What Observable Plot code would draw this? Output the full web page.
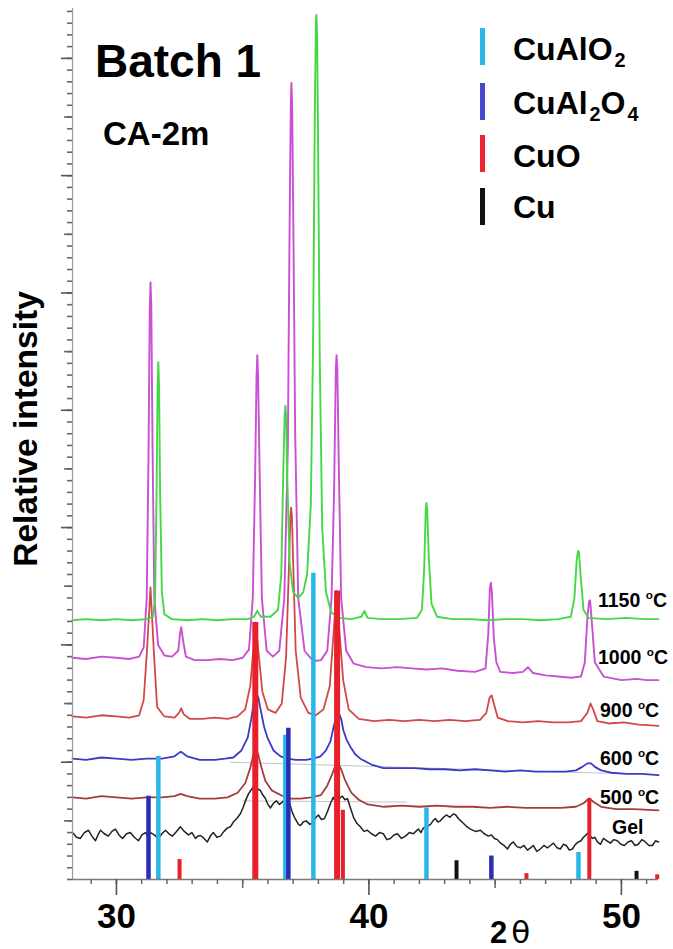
<!DOCTYPE html>
<html><head><meta charset="utf-8">
<script src="https://cdn.jsdelivr.net/npm/d3@7"></script>
<script src="https://cdn.jsdelivr.net/npm/@observablehq/plot@0.6"></script>
<style>html,body{margin:0;padding:0;background:#fff}#chart svg{display:block}</style>
</head><body><div id="chart"></div>
<script>
// ---------- data (2θ in degrees, relative intensity in arbitrary units) ----------
const xTicksMajor = [30, 40, 50];
const xTicksMid = [35, 45];
const xTicksMinor = d3.range(29, 52);

const seriesLabels = ["1150 ^oC", "1000 ^oC", "900 ^oC", "600 ^oC", "500 ^oC", "Gel"];
const phaseNames = ["CuAlO_2", "CuAl_2O_4", "CuO", "Cu"];

// reference stick patterns [2θ, intensity]
const stickCuAlO2 = [[31.66,1.05],[36.69,1.23],[37.80,2.61],[42.28,0.61],[48.30,0.23]];
const stickCuAl2O4 = [[31.27,0.71],[36.81,1.29],[44.85,0.20]];
const stickCuO = [[32.50,0.17],[35.50,2.19],[38.74,2.46],[38.97,0.59],[46.24,0.05],[48.73,0.69],[51.42,0.04]];
const stickCu = [[43.47,0.16],[50.60,0.07]];

// measured patterns [2θ, intensity]
const pat1150 = [[28.26,2.21],[28.8,2.22],[29.4,2.21],[30.0,2.22],[30.6,2.21],[31.2,2.22],[31.45,2.24],[31.53,2.40],[31.59,3.30],[31.63,4.20],[31.66,4.41],[31.69,4.20],[31.73,3.30],[31.80,2.45],[31.9,2.26],[32.2,2.22],[32.8,2.21],[33.4,2.22],[34.0,2.21],[34.6,2.22],[35.2,2.22],[35.45,2.24],[35.58,2.29],[35.72,2.24],[36.1,2.24],[36.4,2.30],[36.53,2.60],[36.61,3.50],[36.66,3.95],[36.69,4.04],[36.72,3.95],[36.77,3.40],[36.86,2.70],[37.0,2.45],[37.2,2.40],[37.4,2.45],[37.55,2.60],[37.70,3.20],[37.79,4.60],[37.86,6.60],[37.90,7.30],[37.92,7.37],[37.95,7.20],[37.99,6.20],[38.05,4.50],[38.15,3.00],[38.30,2.45],[38.5,2.28],[38.8,2.23],[39.3,2.22],[39.7,2.24],[39.82,2.29],[39.95,2.23],[40.5,2.22],[41.2,2.22],[41.9,2.23],[42.1,2.30],[42.19,2.65],[42.25,3.15],[42.28,3.21],[42.31,3.15],[42.37,2.75],[42.48,2.35],[42.7,2.24],[43.3,2.22],[44.0,2.22],[44.7,2.21],[45.4,2.22],[46.1,2.22],[46.8,2.21],[47.5,2.22],[48.0,2.24],[48.14,2.40],[48.23,2.72],[48.28,2.80],[48.32,2.79],[48.38,2.60],[48.5,2.30],[48.7,2.23],[49.4,2.22],[50.2,2.23],[50.9,2.22],[51.47,2.22]];

const pat1000 = [[28.26,1.89],[28.8,1.88],[29.4,1.90],[30.0,1.89],[30.5,1.88],[30.9,1.90],[31.08,1.98],[31.2,2.40],[31.27,3.60],[31.32,4.85],[31.35,5.09],[31.38,4.90],[31.43,3.70],[31.5,2.40],[31.65,2.00],[31.9,1.91],[32.2,1.90],[32.45,1.95],[32.52,2.10],[32.57,2.15],[32.63,2.05],[32.75,1.90],[33.1,1.87],[33.6,1.87],[34.1,1.88],[34.6,1.87],[35.0,1.89],[35.25,1.96],[35.40,2.40],[35.49,3.40],[35.55,4.30],[35.58,4.47],[35.61,4.30],[35.67,3.50],[35.76,2.40],[35.95,1.95],[36.2,1.90],[36.45,1.95],[36.65,2.40],[36.79,3.70],[36.86,5.60],[36.91,6.65],[36.93,6.79],[36.96,6.60],[37.01,5.50],[37.08,3.80],[37.20,2.40],[37.45,1.95],[37.8,1.86],[38.1,1.87],[38.35,1.95],[38.52,2.40],[38.62,3.30],[38.69,4.35],[38.72,4.47],[38.75,4.35],[38.81,3.50],[38.90,2.40],[39.1,1.95],[39.4,1.84],[39.9,1.81],[40.5,1.80],[41.1,1.81],[41.7,1.80],[42.3,1.79],[42.9,1.80],[43.5,1.78],[44.2,1.77],[44.62,1.80],[44.73,2.10],[44.79,2.48],[44.83,2.53],[44.87,2.45],[44.95,2.05],[45.05,1.85],[45.2,1.77],[45.7,1.76],[46.1,1.77],[46.3,1.81],[46.5,1.76],[47.0,1.74],[47.5,1.73],[48.0,1.72],[48.4,1.73],[48.55,1.85],[48.66,2.25],[48.72,2.37],[48.76,2.38],[48.81,2.25],[48.95,1.85],[49.3,1.73],[50.0,1.70],[50.6,1.71],[51.0,1.70],[51.47,1.70]];

const pat900 = [[28.26,1.39],[28.8,1.38],[29.4,1.40],[30.0,1.39],[30.5,1.38],[30.9,1.40],[31.08,1.53],[31.21,1.95],[31.35,2.49],[31.48,1.95],[31.61,1.47],[31.9,1.39],[32.3,1.38],[32.48,1.42],[32.57,1.46],[32.66,1.41],[32.9,1.37],[33.4,1.37],[33.9,1.38],[34.4,1.37],[34.8,1.39],[35.1,1.45],[35.3,1.65],[35.42,1.95],[35.52,2.19],[35.62,1.95],[35.78,1.60],[36.0,1.45],[36.3,1.42],[36.55,1.50],[36.72,1.90],[36.83,2.65],[36.89,3.10],[36.92,3.17],[36.95,3.10],[37.00,2.70],[37.10,1.95],[37.30,1.55],[37.6,1.42],[37.9,1.40],[38.2,1.45],[38.45,1.65],[38.60,2.10],[38.72,2.46],[38.82,2.15],[38.98,1.70],[39.2,1.45],[39.6,1.37],[40.2,1.35],[40.8,1.36],[41.4,1.35],[42.0,1.36],[42.6,1.35],[43.2,1.36],[43.8,1.35],[44.4,1.36],[44.65,1.42],[44.78,1.55],[44.86,1.57],[44.95,1.50],[45.1,1.38],[45.5,1.35],[46.1,1.34],[46.7,1.35],[47.3,1.34],[47.9,1.34],[48.4,1.35],[48.65,1.42],[48.78,1.50],[48.88,1.45],[49.05,1.35],[49.5,1.33],[50.1,1.34],[50.7,1.32],[51.47,1.31]];

const pat600 = [[28.26,1.03],[28.8,1.02],[29.4,1.04],[30.0,1.03],[30.6,1.02],[31.2,1.03],[31.8,1.03],[32.3,1.05],[32.55,1.09],[32.8,1.05],[33.3,1.02],[33.9,1.02],[34.3,1.03],[34.63,1.04],[34.95,1.10],[35.2,1.21],[35.35,1.38],[35.45,1.53],[35.54,1.59],[35.62,1.55],[35.72,1.44],[35.85,1.30],[35.98,1.21],[36.22,1.10],[36.5,1.05],[36.77,1.03],[37.1,1.02],[37.5,1.02],[37.8,1.03],[38.08,1.05],[38.3,1.10],[38.48,1.18],[38.6,1.30],[38.7,1.38],[38.80,1.42],[38.90,1.37],[38.99,1.27],[39.12,1.19],[39.27,1.13],[39.45,1.07],[39.66,1.03],[40.1,0.98],[40.57,0.95],[41.2,0.95],[41.8,0.95],[42.4,0.94],[43.0,0.94],[43.6,0.93],[44.2,0.94],[44.8,0.93],[45.4,0.92],[46.0,0.93],[46.6,0.92],[47.2,0.92],[47.8,0.92],[48.2,0.93],[48.45,0.96],[48.65,0.99],[48.8,0.99],[48.95,0.96],[49.2,0.93],[49.6,0.91],[50.2,0.90],[50.8,0.90],[51.47,0.89]];

const pat500 = [[28.26,0.70],[28.8,0.69],[29.4,0.71],[30.0,0.70],[30.6,0.69],[31.2,0.70],[31.8,0.70],[32.3,0.71],[32.55,0.73],[32.8,0.71],[33.3,0.69],[33.9,0.69],[34.4,0.70],[34.8,0.74],[35.1,0.82],[35.3,0.95],[35.42,1.06],[35.52,1.12],[35.62,1.06],[35.75,0.95],[35.9,0.84],[36.15,0.76],[36.5,0.72],[36.9,0.69],[37.3,0.69],[37.7,0.70],[38.1,0.72],[38.35,0.80],[38.55,0.90],[38.67,0.97],[38.78,0.99],[38.9,0.94],[39.05,0.85],[39.3,0.74],[39.6,0.68],[39.95,0.64],[40.6,0.62],[41.3,0.63],[42.0,0.62],[42.7,0.63],[43.4,0.62],[44.1,0.62],[44.8,0.61],[45.5,0.62],[46.2,0.61],[46.9,0.61],[47.6,0.61],[48.2,0.62],[48.5,0.65],[48.72,0.69],[48.9,0.66],[49.2,0.62],[49.8,0.60],[50.5,0.60],[51.47,0.59]];

const patGel = [[28.26,0.40],[28.42,0.36],[28.57,0.35],[28.73,0.40],[28.89,0.42],[29.03,0.37],[29.17,0.33],[29.27,0.38],[29.37,0.42],[29.52,0.39],[29.68,0.37],[29.82,0.41],[29.96,0.43],[30.10,0.38],[30.24,0.35],[30.40,0.39],[30.55,0.40],[30.71,0.36],[30.87,0.33],[31.01,0.38],[31.15,0.40],[31.25,0.37],[31.35,0.40],[31.50,0.38],[31.66,0.35],[31.80,0.39],[31.94,0.42],[32.08,0.39],[32.22,0.37],[32.38,0.41],[32.53,0.45],[32.69,0.41],[32.85,0.38],[32.99,0.40],[33.13,0.35],[33.23,0.37],[33.33,0.375],[33.47,0.35],[33.60,0.32],[33.72,0.37],[33.84,0.40],[33.98,0.36],[34.12,0.37],[34.26,0.41],[34.40,0.44],[34.52,0.45],[34.63,0.49],[34.77,0.52],[34.91,0.56],[35.01,0.61],[35.11,0.67],[35.23,0.73],[35.39,0.78],[35.46,0.75],[35.54,0.74],[35.62,0.77],[35.70,0.76],[35.80,0.72],[35.90,0.69],[36.00,0.64],[36.10,0.61],[36.22,0.65],[36.34,0.67],[36.46,0.64],[36.57,0.66],[36.67,0.68],[36.77,0.70],[36.87,0.64],[36.97,0.57],[37.05,0.53],[37.13,0.50],[37.21,0.47],[37.29,0.46],[37.40,0.49],[37.52,0.50],[37.66,0.47],[37.80,0.49],[37.90,0.53],[38.00,0.55],[38.12,0.51],[38.24,0.52],[38.36,0.58],[38.48,0.65],[38.59,0.70],[38.69,0.66],[38.79,0.67],[38.87,0.70],[38.95,0.71],[39.05,0.68],[39.15,0.69],[39.27,0.61],[39.39,0.53],[39.52,0.48],[39.66,0.45],[39.80,0.41],[39.94,0.42],[40.10,0.39],[40.26,0.37],[40.42,0.40],[40.57,0.39],[40.71,0.34],[40.85,0.35],[40.99,0.38],[41.13,0.39],[41.29,0.35],[41.45,0.37],[41.60,0.40],[41.76,0.39],[41.86,0.41],[41.96,0.43],[42.06,0.40],[42.16,0.44],[42.30,0.45],[42.44,0.47],[42.54,0.50],[42.63,0.52],[42.73,0.49],[42.83,0.50],[42.95,0.53],[43.07,0.55],[43.21,0.53],[43.35,0.56],[43.44,0.55],[43.54,0.52],[43.64,0.50],[43.74,0.48],[43.88,0.45],[44.02,0.43],[44.22,0.41],[44.42,0.42],[44.57,0.39],[44.73,0.37],[44.85,0.38],[44.97,0.35],[45.09,0.34],[45.21,0.31],[45.35,0.29],[45.49,0.26],[45.60,0.30],[45.72,0.32],[45.86,0.28],[46.00,0.27],[46.14,0.29],[46.28,0.25],[46.40,0.27],[46.51,0.29],[46.65,0.24],[46.79,0.26],[46.93,0.29],[47.07,0.27],[47.19,0.29],[47.31,0.31],[47.45,0.27],[47.58,0.26],[47.70,0.30],[47.82,0.29],[47.94,0.25],[48.06,0.26],[48.18,0.30],[48.30,0.32],[48.40,0.33],[48.50,0.36],[48.60,0.38],[48.69,0.40],[48.77,0.37],[48.85,0.35],[48.95,0.36],[49.05,0.32],[49.17,0.30],[49.29,0.35],[49.43,0.33],[49.56,0.31],[49.70,0.34],[49.84,0.33],[49.98,0.30],[50.12,0.29],[50.26,0.32],[50.40,0.33],[50.54,0.29],[50.67,0.30],[50.81,0.34],[50.95,0.32],[51.09,0.29],[51.23,0.29],[51.35,0.33],[51.47,0.32]];

// faint background lines visible in the original
const bg600 = [[34.5,1.00],[49.5,0.905]];
const bg500 = [[35.0,0.67],[41.5,0.66]];

// ---------- styling ----------
const FONT = "'Liberation Sans', Arial, Helvetica, sans-serif";
const NARROW = "'Liberation Sans Narrow', 'Arial Narrow', 'Liberation Sans', Arial, sans-serif";
const phaseColors = ["#29b6e8", "#2b2bb5", "#e8202a", "#111111"];
const legendColors = ["#2bb7ea", "#4747cf", "#ee2233", "#111111"];
const lineColors = {p1150:"#45d845", p1000:"#c94fd4", p900:"#d24848", p600:"#3a3ac4", p500:"#a53c3c", gel:"#222222"};

function richText(sel, str, size) {
  // "_x" = subscript char, "^x" = superscript char
  const parts = [];
  for (let i = 0; i < str.length; i++) {
    const c = str[i];
    if ((c === "_" || c === "^") && i + 1 < str.length) { parts.push({t: str[i+1], k: c}); i++; }
    else { if (parts.length && parts[parts.length-1].k === "n") parts[parts.length-1].t += c; else parts.push({t: c, k: "n"}); }
  }
  let shift = 0;
  for (const p of parts) {
    const ts = sel.append("tspan").text(p.t);
    let target = 0;
    if (p.k === "_") { target = size * 0.22; ts.attr("font-size", size * 0.62); ts.attr("dx", size * 0.06); }
    if (p.k === "^") { target = -size * 0.42; ts.attr("font-size", size * 0.6); }
    if (target - shift !== 0) ts.attr("dy", target - shift);
    shift = target;
  }
}

function annotations(index, scales, values, dims) {
  const g = d3.create("svg:g").attr("font-family", FONT).attr("font-weight", "bold")
    .attr("fill", "#000").attr("text-anchor", "start");
  g.append("text").attr("x", 95).attr("y", 77).attr("font-size", 46).text("Batch 1");
  g.append("text").attr("x", 103).attr("y", 145).attr("font-size", 33).text("CA-2m");
  // legend
  const legY = [[28,65,60],[83,120,114],[135,172,167],[188,225,218]];
  phaseNames.forEach((name, i) => {
    g.append("rect").attr("x", 480).attr("y", legY[i][0]).attr("width", 5).attr("height", legY[i][1]-legY[i][0]).attr("fill", legendColors[i]);
    const t = g.append("text").attr("x", 513).attr("y", legY[i][2]).attr("font-size", 32);
    richText(t, name, 32);
  });
  // series labels
  const labPos = [[598,607],[598,664],[600,717],[600,765],[600,804],[612,834]];
  seriesLabels.forEach((s, i) => {
    const t = g.append("text").attr("x", labPos[i][0]).attr("y", labPos[i][1]).attr("font-size", 19.5);
    richText(t, s, 19.5);
  });
  // y label
  g.append("text").attr("transform", "translate(37,429) rotate(-90)").attr("text-anchor", "middle")
    .attr("font-size", 33.5).text("Relative intensity");
  // x label
  const xl = g.append("text").attr("x", 510).attr("y", 943).attr("text-anchor", "middle").attr("font-size", 31);
  xl.append("tspan").text("2");
  xl.append("tspan").attr("dx", 4).attr("font-weight", "normal").attr("font-family", "'DejaVu Sans', sans-serif").text("θ");
  return g.node();
}

const X = d => d[0], Y = d => d[1];
const chart = Plot.plot({
  width: 673, height: 949,
  marginLeft: 72, marginRight: 15, marginTop: 8, marginBottom: 70,
  x: {domain: [28.26, 51.47], axis: null},
  y: {domain: [0, 7.425], axis: null},
  style: {background: "#fff", fontFamily: FONT, overflow: "visible"},
  marks: [
    Plot.line(bg600, {x: X, y: Y, stroke: "#b5b5b5", strokeWidth: 0.8}),
    Plot.line(bg500, {x: X, y: Y, stroke: "#b5b5b5", strokeWidth: 0.8}),
    Plot.line(patGel, {x: X, y: Y, stroke: lineColors.gel, strokeWidth: 1.5}),
    Plot.line(pat500, {x: X, y: Y, stroke: lineColors.p500, strokeWidth: 1.8}),
    Plot.line(pat600, {x: X, y: Y, stroke: lineColors.p600, strokeWidth: 1.8}),
    Plot.line(pat900, {x: X, y: Y, stroke: lineColors.p900, strokeWidth: 1.8}),
    Plot.line(pat1000, {x: X, y: Y, stroke: lineColors.p1000, strokeWidth: 1.9}),
    Plot.line(pat1150, {x: X, y: Y, stroke: lineColors.p1150, strokeWidth: 1.9}),
    Plot.ruleX(stickCuAlO2, {x: X, y1: 0, y2: Y, stroke: phaseColors[0], strokeWidth: 4.5}),
    Plot.ruleX(stickCuAl2O4, {x: X, y1: 0, y2: Y, stroke: phaseColors[1], strokeWidth: 4.5}),
    Plot.ruleX(stickCuO, {x: X, y1: 0, y2: Y, stroke: phaseColors[2], strokeWidth: d => d[1] > 1 ? 6 : 4}),
    Plot.ruleX(stickCu, {x: X, y1: 0, y2: Y, stroke: phaseColors[3], strokeWidth: 4}),
    // axes
    Plot.ruleX([28.26], {stroke: "#9a9a9a", strokeWidth: 1.2}),
    Plot.ruleY([0], {stroke: "#7a7a7a", strokeWidth: 1.6}),
    Plot.axisY({ticks: d3.range(0, 7.43, 0.1), tickSize: 5, tickFormat: () => "", label: null, stroke: "#666", strokeWidth: 1.6}),
    Plot.axisY({ticks: d3.range(0.5, 7.43, 1), tickSize: 8, tickFormat: () => "", label: null, stroke: "#666", strokeWidth: 1.6}),
    Plot.axisY({ticks: d3.range(1, 7.43, 1), tickSize: 11, tickFormat: () => "", label: null, stroke: "#555", strokeWidth: 1.6}),
    Plot.axisX({ticks: xTicksMinor, tickSize: 5, tickFormat: () => "", label: null, stroke: "#666", strokeWidth: 1.5}),
    Plot.axisX({ticks: xTicksMid, tickSize: 9, tickFormat: () => "", label: null, stroke: "#666", strokeWidth: 1.5}),
    Plot.axisX({ticks: xTicksMajor, tickSize: 16, tickPadding: 8, label: null, stroke: "#555", strokeWidth: 1.6,
      fontSize: 35, fontWeight: "bold", fontFamily: NARROW, fill: "#000"}),
    annotations
  ]
});
document.getElementById("chart").appendChild(chart);
</script>
</body></html>
